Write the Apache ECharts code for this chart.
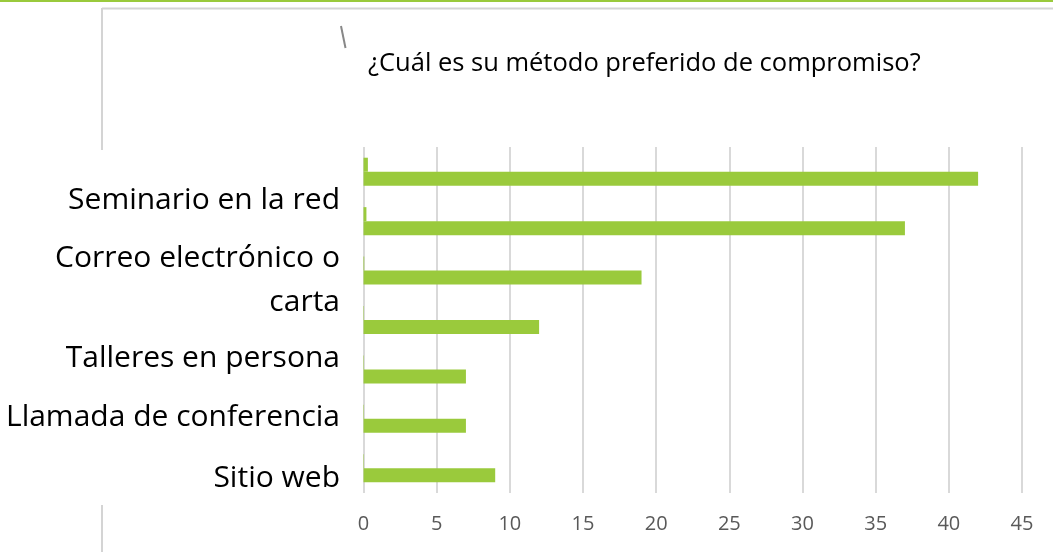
<!DOCTYPE html>
<html>
<head>
<meta charset="utf-8">
<style>
  html, body { margin: 0; padding: 0; background: #fff; }
  #chart { width: 1053px; height: 552px; }
</style>
<script src="https://cdn.jsdelivr.net/npm/echarts@6/dist/echarts.min.js"></script>
</head>
<body>
<div id="chart"></div>
<script>
// datos
var categories = ["c1", "c2", "c3", "c4", "c5", "c6", "c7"];
var mainValues = [42, 37, 19, 12, 7, 7, 9];
var smallValues = [0.3, 0.2, 0.05, 0.03, 0.03, 0.03, 0.03];
var tickMin = 0, tickMax = 45, tickStep = 5;
var titleText = "¿Cuál es su método preferido de compromiso?";
// texto superpuesto a la izquierda (no alineado con las barras)
var sideLabels = ["Seminario en la red", "Correo electrónico o\ncarta", "Talleres en persona", "Llamada de conferencia", "Sitio web"];
var sideLabelY = [200, 280, 358, 417, 478];

var green = "#9aca3c";
var font = "Open Sans";

var myChart = echarts.init(document.getElementById("chart"));

var graphics = [
  { type: "rect", shape: { x: 0, y: 0, width: 1053, height: 2 }, style: { fill: green } },
  { type: "line", shape: { x1: 102, y1: 8.5, x2: 1053, y2: 8.5 }, style: { stroke: "#d4d4d4", lineWidth: 2 } },
  { type: "line", shape: { x1: 102, y1: 8, x2: 102, y2: 150 }, style: { stroke: "#d4d4d4", lineWidth: 2 } },
  { type: "line", shape: { x1: 102, y1: 505, x2: 102, y2: 552 }, style: { stroke: "#d4d4d4", lineWidth: 2 } },
  { type: "line", shape: { x1: 341, y1: 26, x2: 345.5, y2: 48 }, style: { stroke: "#888", lineWidth: 2 } },
  {
    type: "text", x: 368, y: 64,
    style: { text: titleText, font: "25.5px '" + font + "'", fill: "#000", verticalAlign: "middle" }
  }
];
for (var i = 0; i < sideLabels.length; i++) {
  graphics.push({
    type: "text",
    x: 340, y: sideLabelY[i],
    style: {
      text: sideLabels[i],
      font: "30px '" + font + "'",
      fill: "#000",
      align: "right",
      verticalAlign: "middle",
      lineHeight: 44
    }
  });
}

var option = {
  animation: false,
  grid: { left: 363.5, right: 31, top: 147, bottom: 59 },
  xAxis: {
    type: "value",
    min: tickMin,
    max: tickMax,
    interval: tickStep,
    axisLine: { show: false },
    axisTick: { show: false },
    axisLabel: { color: "#595959", fontSize: 20, fontFamily: font, margin: 21 },
    splitLine: { lineStyle: { color: "#d9d9d9", width: 2 } }
  },
  yAxis: {
    type: "category",
    inverse: true,
    data: categories,
    axisLine: { show: false },
    axisTick: { show: false },
    axisLabel: { show: false }
  },
  series: [
    {
      type: "bar",
      data: smallValues,
      barWidth: 14,
      barGap: "0%",
      itemStyle: { color: green }
    },
    {
      type: "bar",
      data: mainValues,
      barWidth: 14,
      barGap: "0%",
      itemStyle: { color: green }
    }
  ],
  graphic: graphics
};
myChart.setOption(option);
</script>
</body>
</html>
